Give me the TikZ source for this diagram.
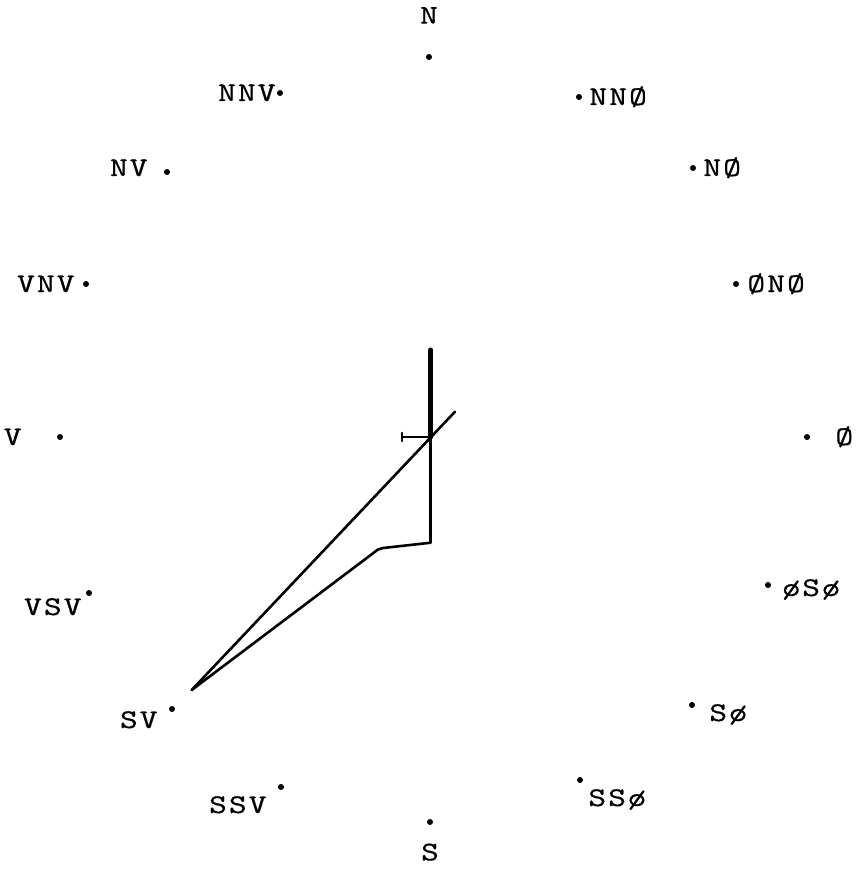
\documentclass[tikz,border=0pt]{standalone}
\usepackage{fontspec}
\usetikzlibrary{positioning}
\newfontfamily\twfont{lmmono10-regular.otf}[LetterSpace=8, FakeStretch=1.25, FakeBold=0.6]

\begin{document}
\begin{tikzpicture}[
  x=1pt, y=-1pt,
  %% compass point mark
  pt/.style={
    circle, fill=black, inner sep=0pt, minimum size=6pt
  },
  %% typewriter label
  lab/.style={
    font=\twfont\fontsize{27}{29}\selectfont,
    inner sep=0pt, text height=16pt, text depth=0pt
  },
  %% plotted legs
  leg/.style={line width=2.6pt, line cap=round},
  legb/.style={line width=5pt, line cap=round},
]

\useasboundingbox (0,0) rectangle (858,877);

%% ── Compass point marks ──────────────────────────────────────────────────────
\node[pt] (dN)    at (429, 57) {};
\node[pt] (dNNO)  at (579, 97) {};
\node[pt] (dNO)   at (693,168) {};
\node[pt] (dONO)  at (736,284) {};
\node[pt] (dO)    at (807,437) {};
\node[pt] (dOSO)  at (768,585) {};
\node[pt] (dSO)   at (692,705) {};
\node[pt] (dSSO)  at (580,780) {};
\node[pt] (dS)    at (430,822) {};
\node[pt] (dSSV)  at (281,787) {};
\node[pt] (dSV)   at (172,709) {};
\node[pt] (dVSV)  at ( 89,593) {};
\node[pt] (dV)    at ( 60,437) {};
\node[pt] (dVNV)  at ( 86,284) {};
\node[pt] (dNV)   at (167,172) {};
\node[pt] (dNNV)  at (280, 93) {};

%% ── Labels ───────────────────────────────────────────────────────────────────
\node[lab, above=30pt of dN]                (lN)   {N};
\node[lab, right=7pt of dNNO]               (lNNO) {NNØ};
\node[lab, right=7pt of dNO]                (lNO)  {NØ};
\node[lab, right=8pt of dONO]               (lONO) {ØNØ};
\node[lab, right=25pt of dO]                (lO)   {Ø};
\node[lab, right=11pt of dOSO, yshift=-3pt] (lOSO) {øSø};
\node[lab, right=14pt of dSO, yshift=-8pt]  (lSO)  {Sø};
\node[lab, right=5pt of dSSO, yshift=-18pt] (lSSO) {SSø};
\node[lab, below=19pt of dS]                (lS)   {S};
\node[lab, left=11pt of dSSV, yshift=-18pt] (lSSV) {SSV};
\node[lab, left=11pt of dSV, yshift=-11pt]  (lSV)  {SV};
\node[lab, left=4pt of dVSV, yshift=-14pt]  (lVSV) {VSV};
\node[lab, left=35pt of dV]                 (lV)   {V};
\node[lab, left=8pt of dVNV]                (lVNV) {VNV};
\node[lab, left=16pt of dNV, yshift=4pt]    (lNV)  {NV};
\node[lab, left=1pt of dNNV]                (lNNV) {NNV};

%% ── Plotted legs ─────────────────────────────────────────────────────────────
\coordinate (vTop)  at (430.7,350);
\coordinate (vMid)  at (430.7,437);
\coordinate (vBot)  at (430.7,542.7);
\coordinate (tickL) at (402,437);
\coordinate (fan)   at (191.7,690);
\coordinate (dTip)  at (455,411.7);
\coordinate (kinkA) at (378,549.5);
\coordinate (kinkB) at (383,548);

%% thick upper part, thin lower part
\draw[legb] (vTop) -- (vMid);
\draw[leg]  (vMid) -- (vBot);

%% short tick with end stroke
\draw[leg] (tickL) -- (vMid);
\draw[leg] ([yshift=4pt]tickL) -- ([yshift=-4pt]tickL);

%% long diagonal through the crossing
\draw[leg] (fan) -- (dTip);

%% lower leg back to the vertical
\draw[leg] (fan) -- (kinkA) -- (kinkB) -- (vBot);

\end{tikzpicture}
\end{document}
